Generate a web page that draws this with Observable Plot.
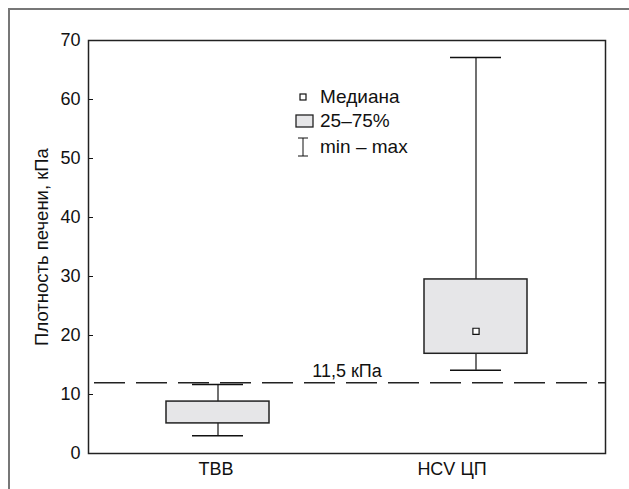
<!DOCTYPE html>
<html><head><meta charset="utf-8">
<script src="https://cdn.jsdelivr.net/npm/d3@7"></script>
<script src="https://cdn.jsdelivr.net/npm/@observablehq/plot@0.6"></script>
<style>
body{margin:0;background:#fff;font-family:"Liberation Sans",Arial,sans-serif;}
#wrap{position:relative;width:629px;height:489px;overflow:hidden;}
#border{position:absolute;left:8px;top:8px;width:640px;height:500px;border-top:2px solid #777;border-left:2px solid #777;}
#legend{position:absolute;left:294px;top:85px;font-size:19px;color:#111;}
.row{display:flex;align-items:center;height:24px;}
.row svg{width:22px;height:22px;margin-right:4px;flex:none;}
</style></head>
<body><div id="wrap"><div id="border"></div><div id="chart"></div>
<div id="legend">
<div class="row"><svg viewBox="0 0 22 22"><rect x="6" y="8" width="6" height="6" fill="#fff" stroke="#111" stroke-width="1.2"/></svg>Медиана</div>
<div class="row"><svg viewBox="0 0 22 22"><rect x="2" y="5" width="17" height="12" fill="#e6e6e8" stroke="#222" stroke-width="1.3"/></svg>25–75%</div>
<div class="row" style="margin-top:2px"><svg viewBox="0 0 22 22"><line x1="9" x2="9" y1="2" y2="20" stroke="#111"/><line x1="4" x2="14" y1="2" y2="2" stroke="#111"/><line x1="4" x2="14" y1="20" y2="20" stroke="#111"/></svg>min – max</div>
</div></div>
<script>
const groups = ["TBB", "HCV ЦП"];
const mins = [3.0, 14.1];
const q1s = [5.1, 16.9];
const medians = [null, 20.7];
const q3s = [8.8, 29.5];
const maxs = [11.7, 67.1];
const cutoff = 12;
const cutoffLabel = "11,5 кПа";
const yTicks = [0, 10, 20, 30, 40, 50, 60, 70];
const yLabel = "Плотность печени, кПа";

const data = groups.map((g, i) => ({g, min: mins[i], q1: q1s[i], med: medians[i], q3: q3s[i], max: maxs[i]}));

const W = 629, ML = 88, MR = 24;
const chart = Plot.plot({
  width: W, height: 489,
  marginLeft: ML, marginRight: MR, marginTop: 40, marginBottom: 36,
  style: {fontFamily: "Liberation Sans, Arial, sans-serif", fontSize: "18px", color: "#111", background: "transparent"},
  x: {domain: groups, paddingInner: 0.6, paddingOuter: 0.3, label: null},
  y: {domain: [0, 70], label: null},
  marks: [
    Plot.ruleY([cutoff], {stroke: "#222", strokeWidth: 1.5, strokeDasharray: "31,11", strokeDashoffset: -6}),
    Plot.text([cutoff], {y: d => d, text: () => cutoffLabel, frameAnchor: "middle", lineAnchor: "bottom", dy: -6, fontSize: 18, fill: "#111"}),
    Plot.ruleX(data, {x: "g", y1: "min", y2: "max", stroke: "#111", strokeWidth: 1.2}),
    Plot.tickY(data, {x: "g", y: "min", stroke: "#111", strokeWidth: 1.5, insetLeft: 26, insetRight: 26}),
    Plot.tickY(data, {x: "g", y: "max", stroke: "#111", strokeWidth: 1.5, insetLeft: 26, insetRight: 26}),
    Plot.barY(data, {x: "g", y1: "q1", y2: "q3", fill: "#e6e6e8", stroke: "#222", strokeWidth: 1.5}),
    Plot.dot(data.filter(d => d.med != null), {x: "g", y: "med", symbol: "square", r: 3.5, fill: "#fff", stroke: "#111", strokeWidth: 1.2}),
    Plot.axisY({ticks: yTicks, tickSize: 0, tickPadding: 8, label: null, fontSize: 18}),
    Plot.tickY(yTicks.slice(1, -1), {y: d => d, stroke: "#111", strokeWidth: 1, insetRight: W - ML - MR - 5}),
    Plot.axisX([groups[0]], {tickSize: 0, tickPadding: 9, label: null, fontSize: 18, dx: -2}),
    Plot.axisX([groups[1]], {tickSize: 0, tickPadding: 9, label: null, fontSize: 18, dx: -24}),
    Plot.text([yLabel], {text: d => d, frameAnchor: "left", dx: -46, rotate: -90, textAnchor: "middle", fontSize: 18.5, fill: "#111"}),
    Plot.frame({stroke: "#222", strokeWidth: 1.5})
  ]
});
document.getElementById("chart").appendChild(chart);
</script></body></html>
